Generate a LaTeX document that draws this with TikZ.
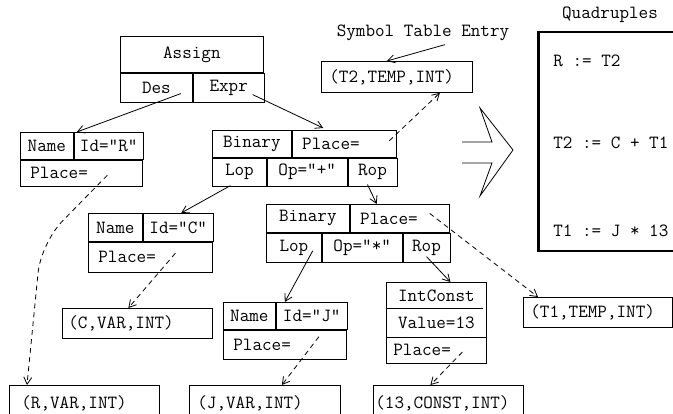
\documentclass[tikz,border=0pt]{standalone}
\usetikzlibrary{positioning,arrows.meta}

\begin{document}
\begin{tikzpicture}[x=1pt, y=-1pt, line width=0.8pt,
    font=\ttfamily\fontsize{18.6}{20}\selectfont,
    cell/.style={draw, inner sep=0pt},
    lcell/.style={draw, inner ysep=0pt, inner xsep=10pt, align=left},
    entry/.style={draw, inner ysep=0pt, inner xsep=8pt, text width=134pt, align=left, anchor=north west},
    arr/.style={-{Straight Barb[length=7pt,width=8pt]}},
    darr/.style={arr, dash pattern=on 5pt off 4pt}]
  \useasboundingbox (0,0) rectangle (673,414);
  \clip (0,0) rectangle (673,414);

  \node[cell, minimum width=143pt, minimum height=36pt, anchor=north west] (as) at (120,36) {Assign};
  \node[cell, minimum width=72pt, minimum height=29pt, anchor=north west] (des) at (as.south west) {Des};
  \node[cell, minimum width=71pt, minimum height=29pt, right=0pt of des] (expr) {Expr};

  \node[cell, minimum width=53pt, minimum height=27pt, anchor=north west] (nr) at (20,132) {Name};
  \node[cell, minimum width=69pt, minimum height=27pt, right=0pt of nr] (ir) {Id="R"};
  \node[lcell, text width=102pt, minimum height=26pt, anchor=north west] (pr) at (nr.south west) {Place=};

  \node[cell, minimum width=79pt, minimum height=27pt, anchor=north west] (ba) at (212,130) {Binary};
  \node[lcell, text width=84pt, minimum height=27pt, right=0pt of ba] (pa) {Place=};
  \node[cell, minimum width=54pt, minimum height=28pt, anchor=north west] (la) at (ba.south west) {Lop};
  \node[cell, minimum width=80pt, minimum height=28pt, right=0pt of la] (oa) {Op="+"};
  \node[cell, minimum width=49pt, minimum height=28pt, right=0pt of oa] (ra) {Rop};

  \node (ste) at (423,33) {Symbol Table Entry};
  \node[entry, text width=135pt, minimum height=31pt] (t2) at (321,61) {(T2,TEMP,INT)};

  \node[cell, minimum width=54pt, minimum height=28pt, anchor=north west] (nc) at (88,213) {Name};
  \node[cell, minimum width=70pt, minimum height=28pt, right=0pt of nc] (ic) {Id="C"};
  \node[lcell, text width=104pt, minimum height=30pt, anchor=north west] (pc) at (nc.south west) {Place=};

  \node[cell, minimum width=83pt, minimum height=28pt, anchor=north west] (bb) at (266,204) {Binary};
  \node[lcell, text width=79pt, minimum height=28pt, right=0pt of bb] (pb) {Place=};
  \node[cell, minimum width=55pt, minimum height=29pt, anchor=north west] (lb) at (bb.south west) {Lop};
  \node[cell, minimum width=80pt, minimum height=29pt, right=0pt of lb] (ob) {Op="*"};
  \node[cell, minimum width=47pt, minimum height=29pt, right=0pt of ob] (rb) {Rop};

  \node[entry, inner xsep=6pt, text width=138pt, minimum height=30pt] (cv) at (62,308) {(C,VAR,INT)};

  \node[cell, minimum width=52pt, minimum height=27pt, anchor=north west] (nj) at (223,302) {Name};
  \node[cell, minimum width=71pt, minimum height=27pt, right=0pt of nj] (ij) {Id="J"};
  \node[lcell, text width=103pt, minimum height=29pt, anchor=north west] (pj) at (nj.south west) {Place=};

  \node[inner sep=0pt, minimum width=100pt, minimum height=26pt, anchor=north west] (ict) at (386,282) {IntConst};
  \node[inner sep=0pt, minimum width=100pt, minimum height=27pt, anchor=north west] (icv) at (ict.south west) {Value=13};
  \node[lcell, inner xsep=7pt, text width=86pt, minimum height=26pt, anchor=north west] (icp) at (icv.south west) {Place=};
  \draw (ict.north west) rectangle (icp.south east);
  \draw ([xshift=1pt]ict.south west) -- ([xshift=-4pt]ict.south east);

  \node[entry, inner xsep=7pt, text width=135pt, minimum height=30pt] (t1) at (523,297) {(T1,TEMP,INT)};

  \node[entry, inner xsep=12pt, text width=126pt, minimum height=36pt] (rv) at (9,385) {(R,VAR,INT)};
  \node[entry, text width=135pt, minimum height=36pt] (jv) at (189,385) {(J,VAR,INT)};
  \node[entry, inner xsep=2pt, text width=146pt, minimum height=36pt] (cc) at (373,385) {(13,CONST,INT)};

  \node (qd) at (610,15) {Quadruples};
  \node[draw, line width=2.5pt, minimum width=200pt, minimum height=219pt, anchor=north west] (quad) at (537,31) {};
  \node[anchor=west, inner sep=0pt] (q1) at (553,61) {R := T2};
  \node[anchor=west, inner sep=0pt] (q2) at (553,143) {T2 := C + T1};
  \node[anchor=west, inner sep=0pt] (q3) at (553,231) {T1 := J * 13};

  \draw (462,142) -- (492,142) -- (480,108) -- (513,150) -- (480,196) -- (492,163) -- (462,163);

  \draw[arr] ([shift={(-12,-9)}]des.south east) -- ([xshift=3pt]nr.north east);
  \draw[arr] ([shift={(-12,-8)}]expr.south east) -- ([shift={(-21,-2)}]pa.north);
  \draw[arr] ([shift={(-9,-1)}]la.south) -- ([xshift=3pt]ic.north);
  \draw[arr] ([shift={(-5,-2)}]ra.south) -- ([xshift=-23pt]pb.north);
  \draw[arr] ([shift={(-9,3)}]lb.east) -- ([xshift=9pt]ij.north west);
  \draw[arr] ([yshift=6pt]rb.south) -- ([xshift=14pt]ict.north);
  \draw[arr] ([xshift=22pt]ste.south) -- ([xshift=-10pt]t2.north);

  \draw[darr, rounded corners=30pt] ([shift={(26,2)}]pr.center) -- (41,243) -- ([xshift=18pt]rv.north west);
  \draw[darr] ([shift={(45,-3)}]pa.center) -- ([xshift=43pt]t2.south);
  \draw[darr] ([shift={(25,-4)}]pc.center) -- ([xshift=-9pt]cv.north);
  \draw[darr] ([shift={(30,-5)}]pb.center) -- ([xshift=15pt]t1.north west);
  \draw[darr] ([shift={(34,-8)}]pj.center) -- ([xshift=17pt]jv.north);
  \draw[darr] ([shift={(26,2)}]icp.center) -- ([xshift=-18pt]cc.north);
\end{tikzpicture}
\end{document}
